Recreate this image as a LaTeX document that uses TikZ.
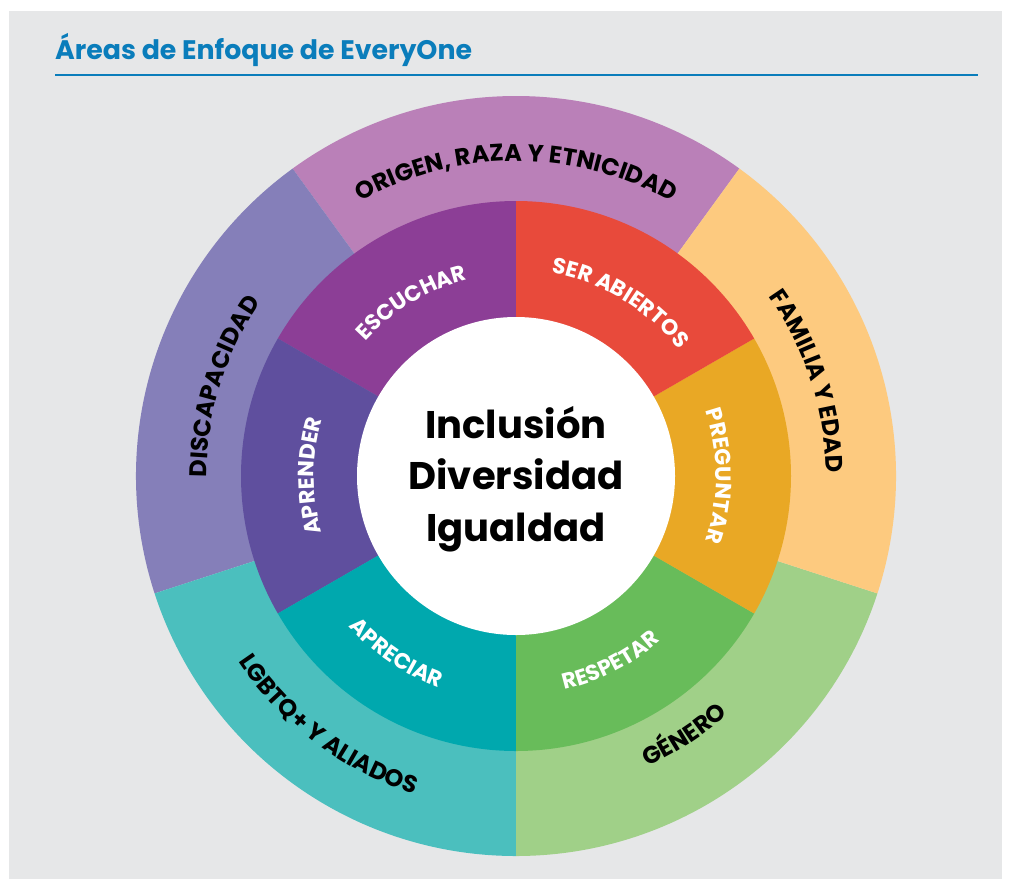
\documentclass[tikz,border=0pt]{standalone}
\usepackage{fontspec}
\setmainfont{Poppins}
\usepackage{xcolor}
\usetikzlibrary{decorations.text}

% palette
\definecolor{panelgray}{HTML}{E6E7E8}
\definecolor{titleblue}{HTML}{0A7DBB}
\definecolor{origen}{HTML}{BA80B8}
\definecolor{familia}{HTML}{FDCA7F}
\definecolor{genero}{HTML}{A0D088}
\definecolor{lgbtq}{HTML}{4BBFBE}
\definecolor{discap}{HTML}{857FB9}
\definecolor{escuchar}{HTML}{8C3E96}
\definecolor{serabiertos}{HTML}{E84A3B}
\definecolor{preguntar}{HTML}{E9A825}
\definecolor{respetar}{HTML}{68BC5A}
\definecolor{apreciar}{HTML}{00A8AE}
\definecolor{aprender}{HTML}{5F4F9E}

\newcommand{\areafont}{\fontsize{24}{24}\selectfont\bfseries}
\newcommand{\valuefont}{\fontsize{22}{22}\selectfont\bfseries}

\begin{document}
\begin{tikzpicture}[
  x=1pt, y=1pt,
  areatext/.style={decorate, decoration={text along path, text align=center, text color=black}},
  valuetext/.style={decorate, decoration={text along path, text align=center, text color=white}}
]
\useasboundingbox (0,0) rectangle (1011,-879);
\fill[white] (0,0) rectangle (1011,-879);
\fill[panelgray] (9,-11) rectangle (1002,-879);

% Heading and rule
\node[anchor=base west, inner sep=0, text=titleblue, font=\fontsize{26.8}{30}\selectfont\bfseries] (title) at (55,-59.3) {Áreas de Enfoque de EveryOne};
\draw[titleblue, line width=1.3] (55,-75) -- (978,-75);

\begin{scope}[shift={(516,-476)}]
% Outer ring: focus areas
\fill[origen]  (0,0) -- (54:380)  arc[start angle=54,  end angle=126, radius=380] -- cycle;
\fill[discap]  (0,0) -- (126:380) arc[start angle=126, end angle=198, radius=380] -- cycle;
\fill[lgbtq]   (0,0) -- (198:380) arc[start angle=198, end angle=270, radius=380] -- cycle;
\fill[genero]  (0,0) -- (270:380) arc[start angle=270, end angle=342, radius=380] -- cycle;
\fill[familia] (0,0) -- (342:380) arc[start angle=342, end angle=414, radius=380] -- cycle;

% Inner ring: values
\fill[escuchar]    (0,0) -- (90:275)  arc[start angle=90,  end angle=150, radius=275] -- cycle;
\fill[aprender]    (0,0) -- (150:275) arc[start angle=150, end angle=210, radius=275] -- cycle;
\fill[apreciar]    (0,0) -- (210:275) arc[start angle=210, end angle=270, radius=275] -- cycle;
\fill[respetar]    (0,0) -- (270:275) arc[start angle=270, end angle=330, radius=275] -- cycle;
\fill[preguntar]   (0,0) -- (330:275) arc[start angle=330, end angle=390, radius=275] -- cycle;
\fill[serabiertos] (0,0) -- (30:275)  arc[start angle=30,  end angle=90,  radius=275] -- cycle;

% Hub
\fill[white] (0,0) circle[radius=159];
\node[align=center, inner sep=0, font=\fontsize{38.5}{51.5}\selectfont\bfseries] (core) at (0,-3) {Inclusión\\Diversidad\\Igualdad};

% Area labels (clockwise on top, counter-clockwise underneath)
\path[areatext, decoration={text={|\areafont|ORIGEN, RAZA Y ETNICIDAD}}] (135:315) arc[start angle=135, end angle=45, radius=315];
\path[areatext, decoration={text={|\areafont|FAMILIA Y EDAD}}] (63:310) arc[start angle=63, end angle=-27, radius=310];
\path[areatext, decoration={text={|\areafont|DISCAPACIDAD}}] (208:309) arc[start angle=208, end angle=118, radius=309];
\path[areatext, decoration={text={|\areafont|GÉNERO}}] (-102:319) arc[start angle=-102, end angle=-12, radius=319];
\path[areatext, decoration={text={|\areafont|LGBTQ{+} Y ALIADOS}}] (188:334) arc[start angle=188, end angle=278, radius=334];

% Value labels
\path[valuetext, decoration={text={|\valuefont|ESCUCHAR}}] (166:202) arc[start angle=166, end angle=76, radius=202];
\path[valuetext, decoration={text={|\valuefont|SER ABIERTOS}}] (104:206) arc[start angle=104, end angle=14, radius=206];
\path[valuetext, decoration={text={|\valuefont|PREGUNTAR}}] (45:200) arc[start angle=45, end angle=-45, radius=200];
\path[valuetext, decoration={text={|\valuefont|APRENDER}}] (225:202) arc[start angle=225, end angle=135, radius=202];
\path[valuetext, decoration={text={|\valuefont|RESPETAR}}] (-108:219) arc[start angle=-108, end angle=-18, radius=219];
\path[valuetext, decoration={text={|\valuefont|APRECIAR}}] (191:225) arc[start angle=191, end angle=281, radius=225];
\end{scope}
\end{tikzpicture}
\end{document}
